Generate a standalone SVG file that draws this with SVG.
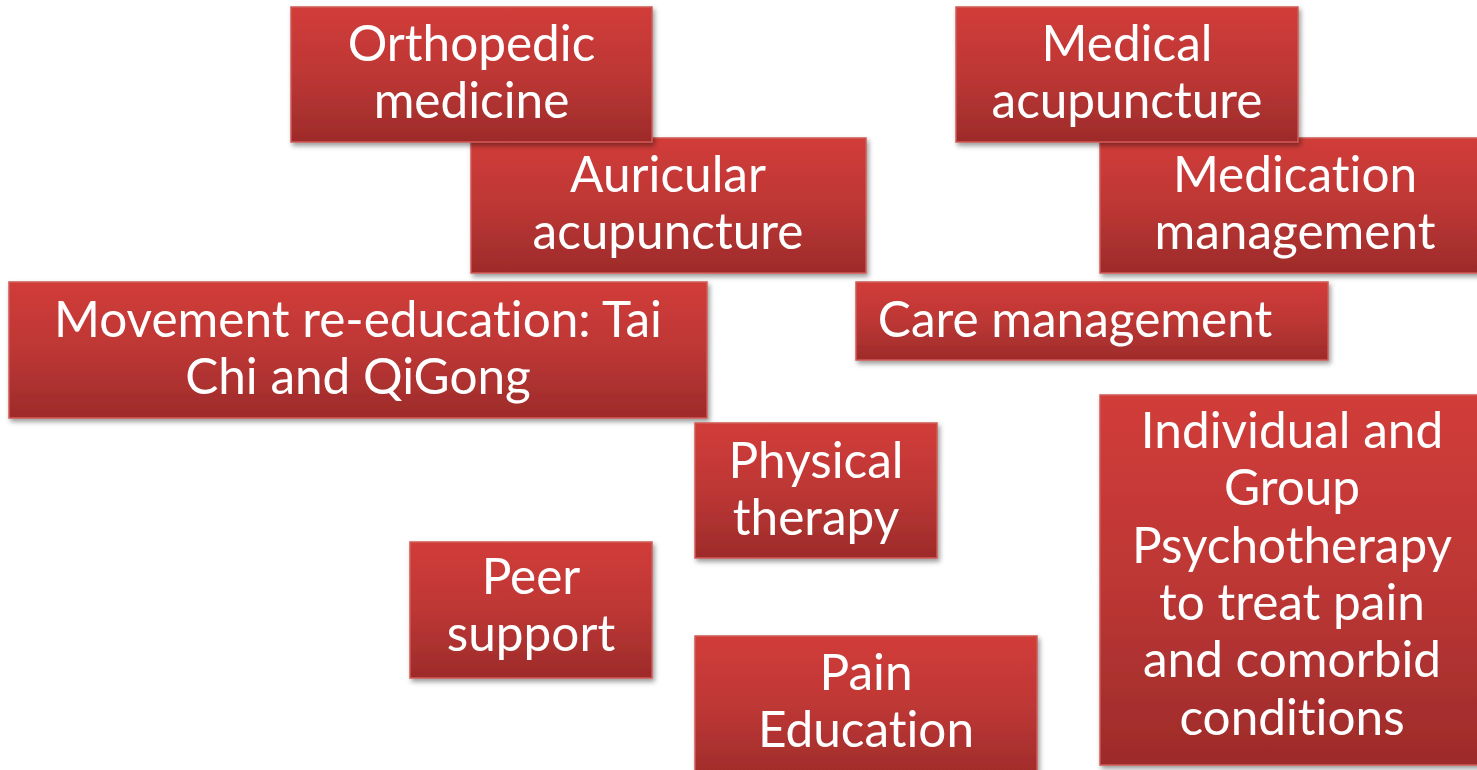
<svg xmlns="http://www.w3.org/2000/svg" width="1477" height="770" viewBox="0 0 1477 770">
<defs>
<linearGradient id="g" x1="0" y1="0" x2="0" y2="1">
<stop offset="0" stop-color="#d13c39"/>
<stop offset="0.5" stop-color="#bd3735"/>
<stop offset="1" stop-color="#9d2b2a"/>
</linearGradient>
<filter id="sh" x="-10%" y="-10%" width="120%" height="130%">
<feDropShadow dx="2" dy="3" stdDeviation="2.5" flood-color="#000" flood-opacity="0.4"/>
</filter>
</defs>
<style>
.box{fill:url(#g);stroke:#cf5a56;stroke-width:1.5;filter:url(#sh)}
.t{font-family:Lato,"Open Sans",sans-serif;font-size:49.5px;fill:#fff;text-anchor:middle;font-variant-ligatures:none;font-feature-settings:"liga" 0}
</style>
<rect width="1477" height="770" fill="#fff"/>
<g id="auricular"><rect class="box" x="471" y="138" width="395" height="135"/><text class="t" x="668" y="192">Auricular</text><text class="t" x="668" y="249">acupuncture</text></g>
<g id="orthopedic"><rect class="box" x="291" y="7" width="361" height="135"/><text class="t" x="471.5" y="61">Orthopedic</text><text class="t" x="471.5" y="118">medicine</text></g>
<g id="medication"><rect class="box" x="1100" y="138" width="390" height="135"/><text class="t" x="1295" y="192">Medication</text><text class="t" x="1295" y="249">management</text></g>
<g id="medical"><rect class="box" x="956" y="7" width="342" height="135"/><text class="t" x="1127" y="61">Medical</text><text class="t" x="1127" y="118">acupuncture</text></g>
<g id="movement"><rect class="box" x="9" y="282" width="698" height="136"/><text class="t" x="358" y="337">Movement re-education: Tai</text><text class="t" x="358" y="394">Chi and QiGong</text></g>
<g id="care"><rect class="box" x="856" y="282" width="472" height="78"/><text class="t" x="1075" y="337">Care management</text></g>
<g id="physical"><rect class="box" x="695" y="423" width="242" height="135"/><text class="t" x="816" y="478">Physical</text><text class="t" x="816" y="535">therapy</text></g>
<g id="psychotherapy"><rect class="box" x="1100" y="395" width="390" height="370"/><text class="t" x="1292" y="448">Individual and</text><text class="t" x="1292" y="505">Group</text><text class="t" x="1292" y="563">Psychotherapy</text><text class="t" x="1292" y="620">to treat pain</text><text class="t" x="1292" y="677">and comorbid</text><text class="t" x="1292" y="735">conditions</text></g>
<g id="peer"><rect class="box" x="410" y="542" width="242" height="136"/><text class="t" x="531" y="594">Peer</text><text class="t" x="531" y="651">support</text></g>
<g id="pain"><rect class="box" x="695" y="636" width="342" height="145"/><text class="t" x="866" y="690">Pain</text><text class="t" x="866" y="747">Education</text></g>
<g id="connectors"/>
</svg>
